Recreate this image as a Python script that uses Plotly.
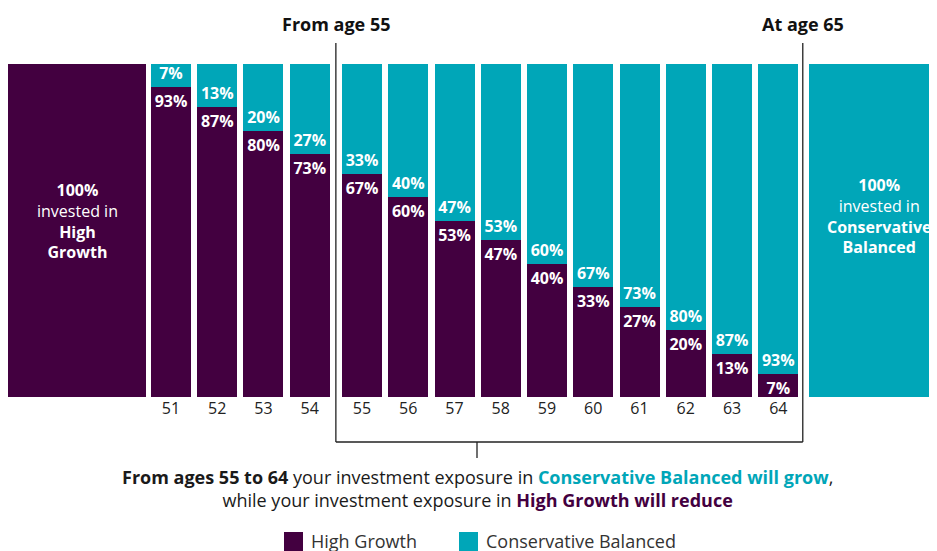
import plotly.graph_objects as go

# Glide path: share of each option by age
ages = [51, 52, 53, 54, 55, 56, 57, 58, 59, 60, 61, 62, 63, 64]
high_growth = [93, 87, 80, 73, 67, 60, 53, 47, 40, 33, 27, 20, 13, 7]
conservative = [7, 13, 20, 27, 33, 40, 47, 53, 60, 67, 73, 80, 87, 93]
start_share = 100   # before 51: all High Growth
end_share = 100     # at 65: all Conservative Balanced

PURPLE = '#430040'
TEAL = '#00A6B8'
FONT = 'Open Sans'

# page has an 8px body margin, so the figure is drawn 8px in from the top-left
OFF = 8
W, H = 929, 543
ML, MR, MT, MB = 0, 0, 56, 154
PW, PH = W - ML - MR, H - MT - MB

# small extra gap after 54 to make room for the "From age 55" marker
GAP = 0.13
xs = [a + (GAP if a >= 55 else 0) for a in ages]
bw = 0.865
wide = 2.98
left_x = xs[0] - 2.03
right_x = xs[-1] + 2 + GAP + 0.02
line_l = 54.5 + GAP / 2
line_r = xs[-1] + 0.53


def px(p):  # screen pixel -> paper x
    return (p - OFF - ML) / PW


def py(p):  # screen pixel -> paper y
    return (H - MB - (p - OFF)) / PH


def dy(p):  # screen pixel -> data y
    return py(p) * 100


fig = go.Figure()
fig.add_trace(go.Bar(
    x=[left_x] + xs, y=[start_share] + high_growth, width=[wide] + [bw] * len(xs),
    marker=dict(color=PURPLE, line_width=0), name='High Growth',
    text=[''] + [f'{v}%' for v in high_growth], textposition='inside',
    insidetextanchor='end', textangle=0, constraintext='none',
    textfont=dict(family=FONT, size=16, color='white', weight='bold'),
    showlegend=False, hoverinfo='skip'))
fig.add_trace(go.Bar(
    x=xs + [right_x], y=conservative + [end_share], width=[bw] * len(xs) + [wide],
    marker=dict(color=TEAL, line_width=0), name='Conservative Balanced',
    text=[f'{v}%' for v in conservative] + [''], textposition='inside',
    insidetextanchor='start', textangle=0, constraintext='none',
    textfont=dict(family=FONT, size=16, color='white', weight='bold'),
    showlegend=False, hoverinfo='skip'))

ann = []
# text inside the two wide bars
ann.append(dict(x=left_x, y=dy(221), xref='x', yref='y',
                text='<b>100%</b><br>invested in<br><b>High<br>Growth</b>',
                showarrow=False, yanchor='middle', align='center',
                font=dict(family=FONT, size=16, color='white')))
ann.append(dict(x=xs[-1] + 2 + GAP + 0.04, y=dy(216), xref='x', yref='y',
                text='<b>100%</b><br>invested in<br><b>Conservative<br>Balanced</b>',
                showarrow=False, yanchor='middle', align='center',
                font=dict(family=FONT, size=16, color='white')))

# markers above the bars
ann.append(dict(x=line_l, y=py(24), xref='x', yref='paper', text='<b>From age 55</b>',
                showarrow=False, yanchor='middle', font=dict(family=FONT, size=18, color='#111111')))
ann.append(dict(x=line_r, y=py(24), xref='x', yref='paper', text='<b>At age 65</b>',
                showarrow=False, yanchor='middle', font=dict(family=FONT, size=18, color='#111111')))

# note under the bracket
note = ("<b>From ages 55 to 64</b> your investment exposure in "
        f"<b><span style='color:{TEAL}'>Conservative Balanced will grow</span></b>,<br>"
        "while your investment exposure in "
        f"<b><span style='color:{PURPLE}'>High Growth will reduce</span></b>")
ann.append(dict(x=px(477), y=py(488), xref='paper', yref='paper', text=note, showarrow=False,
                xanchor='center', yanchor='middle', align='center',
                font=dict(family=FONT, size=18, color='#1a1a1a')))

# legend drawn by hand (larger swatches than the built-in one)
shapes = []
for name, col, sx in [('High Growth', PURPLE, 284), ('Conservative Balanced', TEAL, 459)]:
    shapes.append(dict(type='rect', xref='paper', yref='paper', x0=px(sx), x1=px(sx + 19),
                       y0=py(532), y1=py(551), fillcolor=col, line_width=0))
    ann.append(dict(x=px(sx + 25), y=py(541), xref='paper', yref='paper', text=name,
                    showarrow=False, xanchor='left', yanchor='middle',
                    font=dict(family=FONT, size=18, color='#333333')))

# bracket lines
LC = '#222222'
shapes += [
    dict(type='line', xref='x', yref='paper', x0=line_l, x1=line_l, y0=py(43), y1=py(442),
         line=dict(color=LC, width=1.3)),
    dict(type='line', xref='x', yref='paper', x0=line_r, x1=line_r, y0=py(43), y1=py(442),
         line=dict(color=LC, width=1.3)),
    dict(type='line', xref='x', yref='paper', x0=line_l, x1=line_r, y0=py(442), y1=py(442),
         line=dict(color=LC, width=1.3)),
    dict(type='line', xref='paper', yref='paper', x0=px(477), x1=px(477), y0=py(442), y1=py(458),
         line=dict(color=LC, width=1.3)),
]

fig.update_layout(
    width=W, height=H, barmode='stack',
    margin=dict(l=ML, r=MR, t=MT, b=MB, pad=0),
    paper_bgcolor='white', plot_bgcolor='white',
    font=dict(family=FONT),
    xaxis=dict(range=[47.476, 67.562], tickvals=xs, ticktext=[str(a) for a in ages],
               showgrid=False, zeroline=False, showline=False, ticks='',
               tickfont=dict(family=FONT, size=16, color='#222222')),
    yaxis=dict(range=[0, 100], visible=False),
    annotations=ann, shapes=shapes,
)

fig.write_html('out.html')
